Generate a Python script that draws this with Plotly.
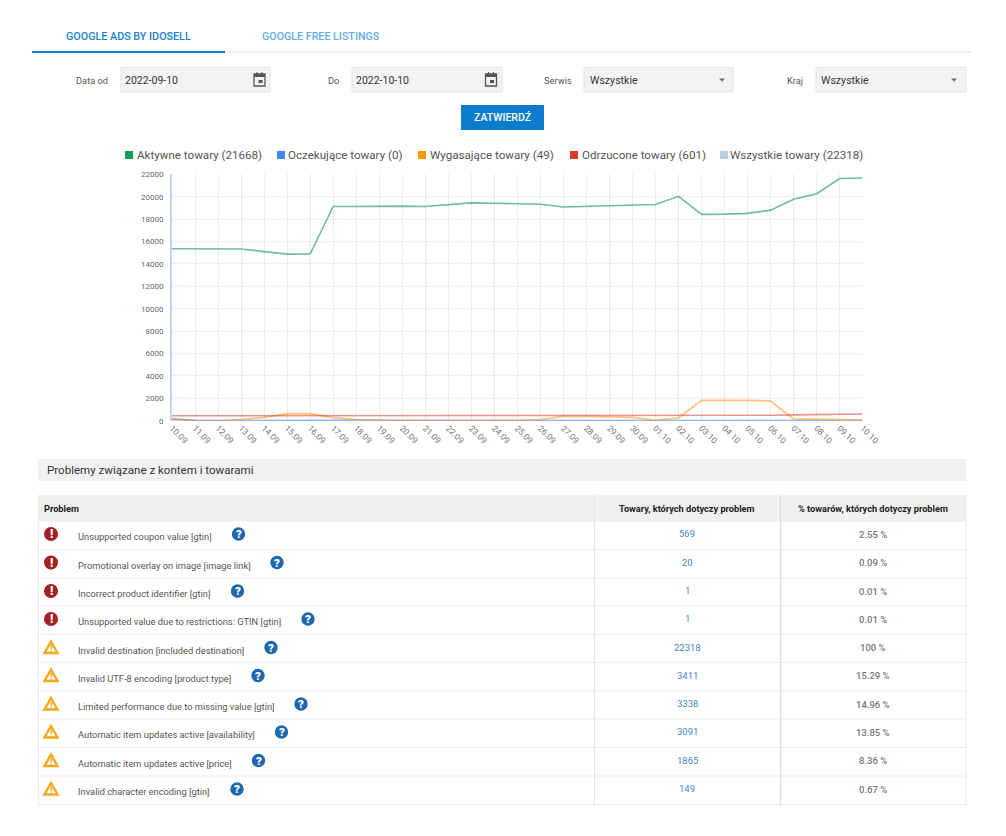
import plotly.graph_objects as go

W, H = 1006, 836

# chart data
dates = ["10.09", "11.09", "12.09", "13.09", "14.09", "15.09", "16.09", "17.09", "18.09", "19.09", "20.09",
         "21.09", "22.09", "23.09", "24.09", "25.09", "26.09", "27.09", "28.09", "29.09", "30.09",
         "01.10", "02.10", "03.10", "04.10", "05.10", "06.10", "07.10", "08.10", "09.10", "10.10"]
active = [15350, 15350, 15330, 15330, 15100, 14870, 14880, 19130, 19130, 19160, 19160,
          19120, 19300, 19450, 19420, 19400, 19320, 19080, 19130, 19150, 19230,
          19300, 20030, 18420, 18440, 18510, 18800, 19770, 20270, 21620, 21668]
pending = [130, 10, 0, 10, 20, 30, 30, 30, 20, 10, 0,
           0, 0, 0, 0, 0, 0, 0, 0, 0, 0,
           0, 0, 0, 0, 0, 0, 0, 0, 0, 0]
expiring = [150, 10, 10, 100, 300, 620, 620, 280, 100, 20, 20,
            20, 20, 20, 20, 30, 100, 380, 380, 360, 300,
            30, 260, 1820, 1820, 1810, 1750, 140, 130, 110, 49]
rejected = [440, 440, 440, 440, 440, 450, 450, 450, 450, 450, 450,
            450, 470, 480, 480, 480, 480, 480, 480, 480, 480,
            490, 490, 490, 490, 490, 490, 520, 530, 560, 601]
y_ticks = [0, 2000, 4000, 6000, 8000, 10000, 12000, 14000, 16000, 18000, 20000, 22000]

legend_names = ["Aktywne towary (21668)", "Oczekujące towary (0)", "Wygasające towary (49)",
                "Odrzucone towary (601)", "Wszystkie towary (22318)"]
legend_colors = ["#0f9d58", "#4285f4", "#ff9800", "#db3a2e", "#bccde2"]
legend_box_x = [125, 277, 418, 570, 720]
legend_text_x = [137, 288, 430, 582, 730]

# table data
problems = ["Unsupported coupon value [gtin]", "Promotional overlay on image [image link]",
            "Incorrect product identifier [gtin]", "Unsupported value due to restrictions: GTIN [gtin]",
            "Invalid destination [included destination]", "Invalid UTF-8 encoding [product type]",
            "Limited performance due to missing value [gtin]", "Automatic item updates active [availability]",
            "Automatic item updates active [price]", "Invalid character encoding [gtin]"]
counts = ["569", "20", "1", "1", "22318", "3411", "3338", "3091", "1865", "149"]
shares = ["2.55 %", "0.09 %", "0.01 %", "0.01 %", "100 %", "15.29 %", "14.96 %", "13.85 %", "8.36 %", "0.67 %"]
severity = ["error"] * 4 + ["warn"] * 6
help_x = [238.5, 277, 237.5, 308, 271, 258, 301, 281.5, 258.5, 237]
row_tops = [521, 549.5, 578, 606, 634.5, 662.5, 691, 719, 747.5, 776, 804.5]

shapes, notes = [], []


def px(x):
    return x / W


def py(y):
    return 1 - y / H


def rect(x0, y0, x1, y1, fill=None, line=None, lw=1):
    shapes.append(dict(type="rect", xref="paper", yref="paper", x0=px(x0), x1=px(x1), y0=py(y0), y1=py(y1),
                       fillcolor=fill, line=dict(color=line or "rgba(0,0,0,0)", width=lw if line else 0),
                       layer="below"))


def hline(x0, x1, y, color, lw=1):
    shapes.append(dict(type="line", xref="paper", yref="paper", x0=px(x0), x1=px(x1), y0=py(y), y1=py(y),
                       line=dict(color=color, width=lw), layer="below"))


def vline(x, y0, y1, color, lw=1):
    shapes.append(dict(type="line", xref="paper", yref="paper", x0=px(x), x1=px(x), y0=py(y0), y1=py(y1),
                       line=dict(color=color, width=lw), layer="below"))


def circle(cx, cy, r, fill):
    shapes.append(dict(type="circle", xref="paper", yref="paper", x0=px(cx - r), x1=px(cx + r),
                       y0=py(cy + r), y1=py(cy - r), fillcolor=fill, line=dict(width=0), layer="above"))


def poly(points, fill=None, line=None, lw=1):
    d = "M " + " L ".join(f"{px(x):.5f} {py(y):.5f}" for x, y in points) + " Z"
    shapes.append(dict(type="path", xref="paper", yref="paper", path=d, fillcolor=fill,
                       line=dict(color=line or "rgba(0,0,0,0)", width=lw if line else 0), layer="above"))


def text(x, y, s, size=10, color="#555", anchor="left", weight=400):
    notes.append(dict(xref="paper", yref="paper", x=px(x), y=py(y), text=s, showarrow=False, xanchor=anchor,
                      yanchor="middle", borderpad=0, borderwidth=0,
                      font=dict(family="Roboto", size=size, color=color, weight=weight)))


def calendar(cx, cy):
    poly([(cx - 5.5, cy - 6), (cx + 5.5, cy - 6), (cx + 5.5, cy + 6), (cx - 5.5, cy + 6)], fill="#f2f2f2", line="#555", lw=1.3)
    poly([(cx - 5.5, cy - 6), (cx + 5.5, cy - 6), (cx + 5.5, cy - 3), (cx - 5.5, cy - 3)], fill="#555")
    poly([(cx - 1, cy), (cx + 3, cy), (cx + 3, cy + 3), (cx - 1, cy + 3)], fill="#555")
    poly([(cx - 3, cy - 8), (cx - 2, cy - 8), (cx - 2, cy - 6), (cx - 3, cy - 6)], fill="#555")
    poly([(cx + 2, cy - 8), (cx + 3, cy - 8), (cx + 3, cy - 6), (cx + 2, cy - 6)], fill="#555")


# tabs
text(66, 36, "GOOGLE ADS BY IDOSELL", 10.75, "#1b7fcc", weight=500)
text(262, 36, "GOOGLE FREE LISTINGS", 10.7, "#63ade6", weight=500)
hline(32, 972, 52, "#f0f0f0", 2)
hline(32, 225, 52, "#1b7fcc", 2)

# filter row
for x0, x1 in [(121, 270), (352, 502), (584, 733), (816, 966)]:
    rect(x0, 67.5, x1, 92, fill="#f3f3f3", line="#e2e2e2")
text(108, 80, "Data od", 9.3, anchor="right")
text(328, 80, "Do", 9.3)
text(544, 80, "Serwis", 9.3)
text(787, 80, "Kraj", 9.3)
text(125, 80, "2022-09-10", 10.5, "#333")
text(356, 80, "2022-10-10", 10.5, "#333")
text(590, 80, "Wszystkie", 10.6, "#333")
text(821, 80, "Wszystkie", 10.6, "#333")
calendar(259.5, 80)
calendar(491, 80)
poly([(719, 78.5), (725, 78.5), (722, 81.5)], fill="#666")
poly([(951, 78.5), (957, 78.5), (954, 81.5)], fill="#666")
rect(461, 105, 544, 130, fill="#0b7ccb")
text(502, 117.5, "ZATWIERDŹ", 10.5, "#ffffff", anchor="center", weight=500)

# legend
for name, color, bx, tx in zip(legend_names, legend_colors, legend_box_x, legend_text_x):
    rect(bx, 151, bx + 8, 159, fill=color)
    text(tx, 155, name, 11.6, "#555")

# section header
rect(38, 459, 966, 481, fill="#f1f1f1")
text(47, 470, "Problemy związane z kontem i towarami", 11.55, "#333")

# table
rect(38, 495, 966, 521, fill="#f0f0f0")
text(44, 508.5, "Problem", 9.2, "#222", weight=700)
text(687, 508.5, "Towary, których dotyczy problem", 9.2, "#222", anchor="center", weight=700)
text(873, 508.5, "% towarów, których dotyczy problem", 9.2, "#222", anchor="center", weight=700)
for y in row_tops:
    hline(38, 966, y, "#ececec")
vline(38.5, 495, 806, "#ececec")
vline(594.5, 495, 806, "#e6e6e6")
vline(780.5, 495, 806, "#e0e0e0", 1.5)
vline(966, 495, 806, "#ececec")

for i, name in enumerate(problems):
    top = row_tops[i]
    icon_y = top + 13
    text(78, top + 15.5, name, 9.3, "#555")
    text(687, top + 12.5, counts[i], 9.5, "#3f86c6", anchor="center")
    text(873, top + 13, shares[i], 9.5, "#777", anchor="center", weight=500)
    if severity[i] == "error":
        circle(51, icon_y, 7, "#a32025")
        text(51, icon_y, "!", 12, "#ffffff", anchor="center", weight=900)
    else:
        poly([(51, icon_y - 6), (57.5, icon_y + 5.5), (44.5, icon_y + 5.5)], fill="#ffffff", line="#f5a81c", lw=2.4)
        text(51, icon_y + 1, "!", 9.5, "#f5a81c", anchor="center", weight=900)
    circle(help_x[i], icon_y, 6.7, "#1f68ad")
    text(help_x[i], icon_y, "?", 11.5, "#ffffff", anchor="center", weight=900)

fig = go.Figure()
series = [("Aktywne towary", active, "rgba(15,145,85,0.6)", 1.6),
          ("Oczekujące towary", pending, "#6d9ff6", 2),
          ("Wygasające towary", expiring, "rgba(255,145,20,0.55)", 1.8),
          ("Odrzucone towary", rejected, "rgba(219,58,46,0.55)", 1.6)]
for name, values, color, width in series:
    fig.add_trace(go.Scatter(x=dates, y=values, name=name, mode="lines", cliponaxis=False,
                             line=dict(color=color, width=width)))

fig.update_layout(
    width=W, height=H, showlegend=False, paper_bgcolor="white", plot_bgcolor="white",
    margin=dict(l=0, r=0, t=0, b=0, autoexpand=False), shapes=shapes, annotations=notes,
    font=dict(family="Roboto", color="#666"),
)
fig.update_xaxes(domain=[px(172), px(862.7)], type="category", range=[0, 30], tickangle=45, automargin=False,
                 tickfont=dict(size=8.5, color="#777"), showgrid=True, gridcolor="#e6ecf5", gridwidth=1,
                 showline=False, zeroline=False, ticks="", tickmode="array", tickvals=dates, ticktext=dates)
fig.update_yaxes(domain=[py(420.7), py(174.3)], range=[0, 22000], tickvals=y_ticks, tickformat="d", automargin=False,
                 tickfont=dict(size=8, color="#666"), showgrid=True, gridcolor="#e9eef6", gridwidth=1,
                 showline=True, linecolor="#c3d5ea", linewidth=2, zeroline=False, ticks="outside", ticklen=5,
                 tickcolor="rgba(0,0,0,0)")

fig.write_html("out.html", config={"displayModeBar": False},
               post_script="document.body.style.margin='0';")
